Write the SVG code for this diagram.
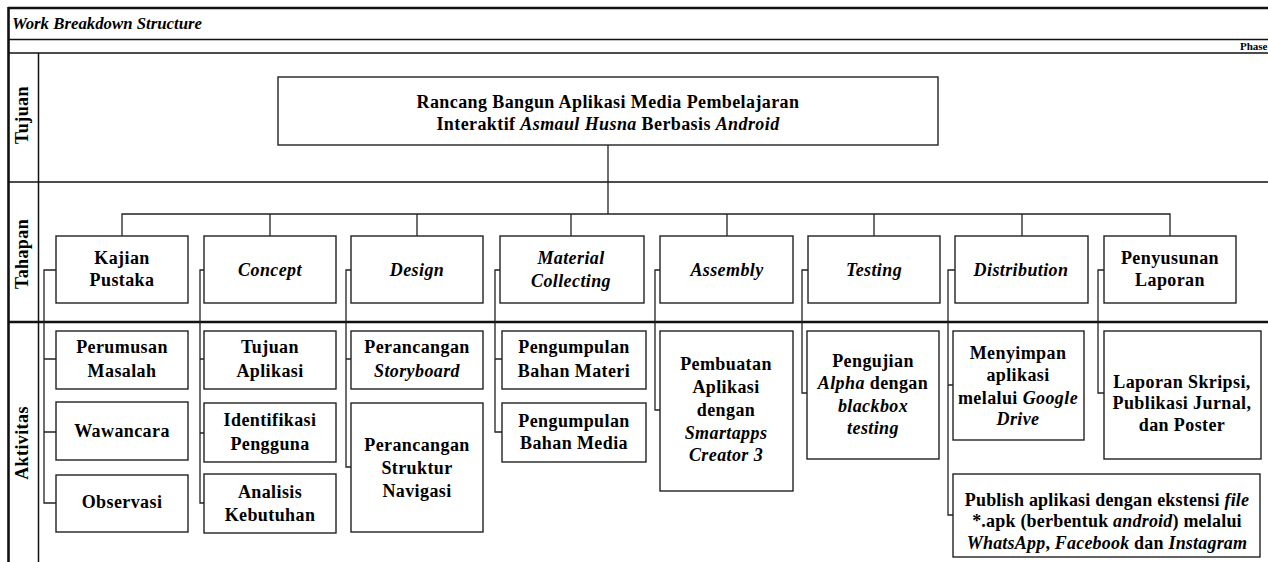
<svg xmlns="http://www.w3.org/2000/svg" width="1268" height="562" viewBox="0 0 1268 562">
<style>
.box{fill:#fff;stroke:#222;stroke-width:1.4}
.ln{fill:none;stroke:#222;stroke-width:1.3}
.frame{fill:none;stroke:#111;stroke-width:1.5}
.thick{fill:none;stroke:#111;stroke-width:2.6}
.t{font-family:"Liberation Serif","Times New Roman",serif;font-size:18px;font-weight:bold;text-anchor:middle;fill:#000;letter-spacing:0.4px}
.i{font-style:italic}
</style>
<rect width="1268" height="562" fill="#fff"/>
<g id="frame">
<line class="thick" x1="8" y1="8" x2="1268" y2="8"/>
<line class="thick" x1="8.5" y1="7" x2="8.5" y2="562"/>
<line class="frame" x1="8" y1="39.5" x2="1268" y2="39.5"/>
<line class="frame" x1="8" y1="53" x2="1268" y2="53"/>
<line class="frame" x1="38.5" y1="53" x2="38.5" y2="562"/>
<line class="frame" x1="8" y1="182" x2="1268" y2="182"/>
<line class="thick" x1="8" y1="322" x2="1268" y2="322"/>
<text x="12" y="29" style="font-family:'Liberation Serif','Times New Roman',serif;font-size:16px;font-weight:bold;font-style:italic" textLength="190" lengthAdjust="spacingAndGlyphs">Work Breakdown Structure</text>
<text x="1240" y="50" style="font-family:'Liberation Serif','Times New Roman',serif;font-size:11px;font-weight:bold">Phase</text>
<text class="t" transform="translate(28,115) rotate(-90)">Tujuan</text>
<text class="t" transform="translate(28,254) rotate(-90)">Tahapan</text>
<text class="t" transform="translate(28,443) rotate(-90)">Aktivitas</text>
</g>
<g id="connectors">
<path class="ln" d="M608,145 V214 M122,236 V214 H1170 V236 M270,214 V236 M417,214 V236 M571,214 V236 M727,214 V236 M874,214 V236 M1022,214 V236"/>
<path class="ln" d="M56,270 H44 V503 H56 M44,359 H56 M44,432 H56"/>
<path class="ln" d="M204,270 H200 V503 H204 M200,359 H204 M200,433 H204"/>
<path class="ln" d="M351,270 H346 V467 H351 M346,359 H351"/>
<path class="ln" d="M500,270 H495 V432 H502 M495,359 H502"/>
<path class="ln" d="M660,270 H655 V410 H660"/>
<path class="ln" d="M808,270 H802 V393 H807"/>
<path class="ln" d="M955,270 H948 V515 H953 M948,385 H953"/>
<path class="ln" d="M1104,270 H1098 V393 H1104"/>
</g>
<g id="goal">
<rect class="box" x="278" y="77" width="660" height="68"/>
<text class="t" x="608" y="108">Rancang Bangun Aplikasi Media Pembelajaran</text>
<text class="t" x="608" y="130">Interaktif <tspan class="i">Asmaul Husna</tspan> Berbasis <tspan class="i">Android</tspan></text>
</g>
<g id="kajian"><rect class="box" x="56" y="236" width="132" height="67"/><text class="t" x="122" y="264">Kajian</text><text class="t" x="122" y="286">Pustaka</text></g>
<g id="concept"><rect class="box" x="204" y="236" width="132" height="67"/><text class="t i" x="270" y="276">Concept</text></g>
<g id="design"><rect class="box" x="351" y="236" width="132" height="67"/><text class="t i" x="417" y="276">Design</text></g>
<g id="material"><rect class="box" x="500" y="236" width="144" height="67"/><text class="t i" x="571" y="264">Material</text><text class="t i" x="571" y="287">Collecting</text></g>
<g id="assembly"><rect class="box" x="660" y="236" width="133" height="67"/><text class="t i" x="727" y="276">Assembly</text></g>
<g id="testing"><rect class="box" x="808" y="236" width="132" height="67"/><text class="t i" x="874" y="276">Testing</text></g>
<g id="distribution"><rect class="box" x="955" y="236" width="133" height="67"/><text class="t i" x="1021" y="276">Distribution</text></g>
<g id="penyusunan"><rect class="box" x="1104" y="236" width="132" height="67"/><text class="t" x="1170" y="264">Penyusunan</text><text class="t" x="1170" y="286">Laporan</text></g>
<g id="perumusan"><rect class="box" x="56" y="331" width="132" height="58"/><text class="t" x="122" y="353">Perumusan</text><text class="t" x="122" y="377">Masalah</text></g>
<g id="wawancara"><rect class="box" x="56" y="402" width="132" height="58"/><text class="t" x="122" y="437">Wawancara</text></g>
<g id="observasi"><rect class="box" x="56" y="475" width="132" height="57"/><text class="t" x="122" y="508">Observasi</text></g>
<g id="tujuan-aplikasi"><rect class="box" x="204" y="331" width="132" height="58"/><text class="t" x="270" y="353">Tujuan</text><text class="t" x="270" y="377">Aplikasi</text></g>
<g id="identifikasi"><rect class="box" x="204" y="403" width="132" height="59"/><text class="t" x="270" y="426">Identifikasi</text><text class="t" x="270" y="450">Pengguna</text></g>
<g id="analisis"><rect class="box" x="204" y="474" width="132" height="59"/><text class="t" x="270" y="498">Analisis</text><text class="t" x="270" y="521">Kebutuhan</text></g>
<g id="storyboard"><rect class="box" x="351" y="331" width="132" height="58"/><text class="t" x="417" y="353">Perancangan</text><text class="t i" x="417" y="377">Storyboard</text></g>
<g id="navigasi"><rect class="box" x="351" y="403" width="132" height="129"/><text class="t" x="417" y="451">Perancangan</text><text class="t" x="417" y="474">Struktur</text><text class="t" x="417" y="497">Navigasi</text></g>
<g id="bahan-materi"><rect class="box" x="502" y="331" width="144" height="58"/><text class="t" x="574" y="353">Pengumpulan</text><text class="t" x="574" y="377">Bahan Materi</text></g>
<g id="bahan-media"><rect class="box" x="502" y="403" width="144" height="59"/><text class="t" x="574" y="427">Pengumpulan</text><text class="t" x="574" y="449">Bahan Media</text></g>
<g id="pembuatan"><rect class="box" x="660" y="331" width="133" height="160"/><text class="t" x="726" y="370">Pembuatan</text><text class="t" x="726" y="393">Aplikasi</text><text class="t" x="726" y="416">dengan</text><text class="t i" x="726" y="439">Smartapps</text><text class="t i" x="726" y="461">Creator 3</text></g>
<g id="pengujian"><rect class="box" x="807" y="331" width="132" height="128"/><text class="t" x="873" y="367">Pengujian</text><text class="t" x="873" y="389"><tspan class="i">Alpha</tspan> dengan</text><text class="t i" x="873" y="412">blackbox</text><text class="t i" x="873" y="434">testing</text></g>
<g id="menyimpan"><rect class="box" x="953" y="331" width="131" height="109"/><text class="t" x="1018" y="359">Menyimpan</text><text class="t" x="1018" y="381">aplikasi</text><text class="t" x="1018" y="404">melalui <tspan class="i">Google</tspan></text><text class="t i" x="1018" y="425">Drive</text></g>
<g id="laporan"><rect class="box" x="1104" y="331" width="157" height="128"/><text class="t" x="1182" y="388">Laporan Skripsi,</text><text class="t" x="1182" y="409">Publikasi Jurnal,</text><text class="t" x="1182" y="431">dan Poster</text></g>
<g id="publish"><rect class="box" x="953" y="474" width="307" height="83"/><text class="t" x="1107" y="506" style="letter-spacing:0.2px">Publish aplikasi dengan ekstensi <tspan class="i">file</tspan></text><text class="t" x="1107" y="527" style="letter-spacing:0.2px">*.apk (berbentuk <tspan class="i">android</tspan>) melalui</text><text class="t" x="1107" y="549" style="letter-spacing:0.2px"><tspan class="i">WhatsApp</tspan>, <tspan class="i">Facebook</tspan> dan <tspan class="i">Instagram</tspan></text></g>
</svg>
